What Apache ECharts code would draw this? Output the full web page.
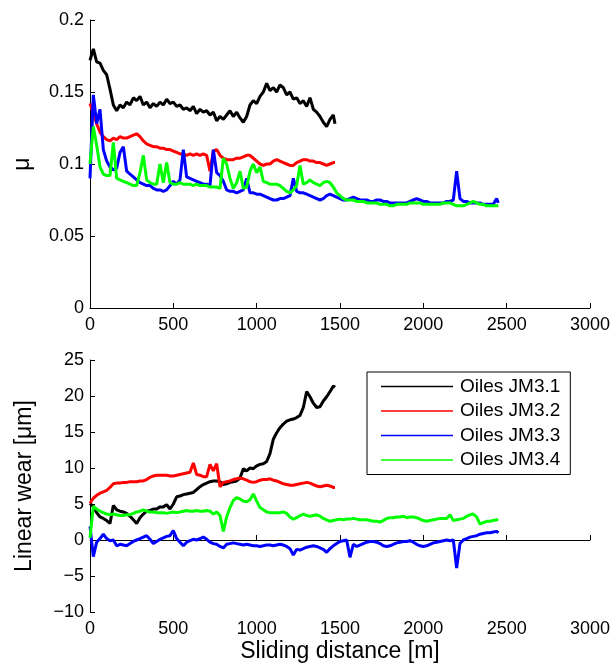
<!DOCTYPE html>
<html><head><meta charset="utf-8">
<script src="https://cdn.jsdelivr.net/npm/echarts@6/dist/echarts.min.js"></script>
<style>html,body{margin:0;padding:0;background:#fff}#c{width:613px;height:671px}</style>
</head><body><div id="c"></div>
<script>
// ---- data ----
const seriesNames = ['Oiles JM3.1', 'Oiles JM3.2', 'Oiles JM3.3', 'Oiles JM3.4'];
const seriesColors = ['#000000', '#ff0000', '#0000ff', '#00ff00'];
const xTicks = [0, 500, 1000, 1500, 2000, 2500, 3000];
const muTicks = [0, 0.05, 0.1, 0.15, 0.2];
const wearTicks = [-10, -5, 0, 5, 10, 15, 20, 25];

// sliding distance samples [m]
const distA = [0,20,40,60,80,100,120,140,160,180,200,220,240,260,280,300,320,340,360,380,
  400,420,440,460,480,500,520,540,560,580,600,620,640,660,680,700,720,740,760,780,
  800,820,840,860,880,900,920,940,960,980,1000,1020,1040,1060,1080,1100,1120,1140,1160,1180,
  1200,1220,1240,1260,1280,1300,1320,1340,1360,1380,1400,1420,1440,1460,1470];
const distB = [0,20,40,60,80,100,120,140,160,180,200,220,240,260,280,300,320,340,360,380,
  400,420,440,460,480,500,520,540,560,580,600,620,640,660,680,700,720,740,760,780,
  800,820,840,860,880,900,920,940,960,980,1000,1020,1040,1060,1080,1100,1120,1140,1160,1180,
  1200,1220,1240,1260,1280,1300,1320,1340,1360,1380,1400,1420,1440,1460,1480,1500,1520,1540,1560,1580,
  1600,1620,1640,1660,1680,1700,1720,1740,1760,1780,1800,1820,1840,1860,1880,1900,1920,1940,1960,1980,
  2000,2020,2040,2060,2080,2100,2120,2140,2160,2180,2200,2220,2240,2260,2280,2300,2320,2340,2360,2380,
  2400,2420,2440,2450];

// friction coefficient mu
const muJM31 = [0.172,0.180,0.171,0.170,0.165,0.162,0.152,0.141,0.137,0.141,
  0.139,0.143,0.141,0.146,0.144,0.147,0.141,0.143,0.139,0.142,
  0.140,0.143,0.141,0.145,0.142,0.143,0.140,0.141,0.138,0.139,
  0.137,0.140,0.135,0.138,0.136,0.137,0.134,0.136,0.130,0.133,
  0.131,0.134,0.137,0.133,0.136,0.132,0.129,0.133,0.141,0.144,
  0.142,0.147,0.150,0.156,0.151,0.153,0.150,0.155,0.153,0.148,
  0.150,0.145,0.146,0.142,0.144,0.140,0.146,0.138,0.136,0.133,
  0.129,0.126,0.131,0.134,0.128];
const muJM32 = [0.142,0.135,0.128,0.122,0.119,0.117,0.116,0.118,0.117,0.119,
  0.118,0.118,0.119,0.120,0.121,0.119,0.116,0.114,0.113,0.112,
  0.112,0.111,0.111,0.110,0.110,0.109,0.108,0.107,0.107,0.106,
  0.107,0.106,0.107,0.106,0.107,0.106,0.095,0.109,0.110,0.106,
  0.104,0.103,0.103,0.103,0.104,0.104,0.105,0.106,0.106,0.104,
  0.102,0.100,0.099,0.100,0.100,0.102,0.103,0.102,0.101,0.100,
  0.099,0.099,0.101,0.102,0.103,0.103,0.102,0.102,0.101,0.101,
  0.100,0.099,0.100,0.101,0.101];
const muJM33 = [0.090,0.148,0.128,0.138,0.110,0.102,0.098,0.096,0.097,0.108,
  0.112,0.095,0.093,0.091,0.089,0.087,0.086,0.085,0.085,0.083,
  0.082,0.082,0.081,0.082,0.085,0.088,0.086,0.089,0.110,0.091,
  0.090,0.089,0.088,0.087,0.086,0.086,0.085,0.110,0.094,0.092,
  0.088,0.082,0.081,0.081,0.080,0.081,0.082,0.090,0.080,0.080,
  0.079,0.079,0.078,0.077,0.076,0.075,0.075,0.076,0.076,0.077,
  0.078,0.090,0.081,0.080,0.080,0.079,0.078,0.077,0.076,0.075,
  0.076,0.078,0.079,0.078,0.077,0.076,0.075,0.075,0.076,0.077,
  0.076,0.075,0.075,0.075,0.074,0.074,0.075,0.075,0.074,0.074,
  0.073,0.073,0.073,0.073,0.073,0.073,0.074,0.075,0.076,0.075,
  0.074,0.074,0.073,0.073,0.073,0.073,0.073,0.074,0.074,0.075,
  0.095,0.076,0.074,0.074,0.073,0.073,0.073,0.073,0.072,0.072,
  0.072,0.072,0.076,0.073];
const muJM34 = [0.100,0.126,0.113,0.098,0.093,0.092,0.092,0.115,0.090,0.089,
  0.088,0.087,0.086,0.085,0.085,0.094,0.106,0.089,0.087,0.086,
  0.086,0.100,0.087,0.101,0.087,0.086,0.086,0.087,0.086,0.086,
  0.086,0.085,0.086,0.085,0.085,0.085,0.084,0.084,0.084,0.083,
  0.104,0.100,0.090,0.083,0.087,0.095,0.083,0.084,0.095,0.100,
  0.094,0.098,0.088,0.087,0.086,0.086,0.086,0.085,0.083,0.081,
  0.080,0.082,0.085,0.099,0.086,0.087,0.089,0.087,0.086,0.085,
  0.087,0.088,0.087,0.084,0.080,0.078,0.076,0.075,0.075,0.075,
  0.074,0.074,0.074,0.073,0.073,0.073,0.073,0.072,0.072,0.072,
  0.071,0.071,0.072,0.072,0.072,0.072,0.073,0.073,0.073,0.073,
  0.072,0.072,0.072,0.072,0.072,0.072,0.073,0.073,0.073,0.072,
  0.071,0.071,0.071,0.072,0.073,0.074,0.073,0.072,0.072,0.071,
  0.071,0.071,0.071,0.071];

// linear wear [um]
const wearJM31 = [5.1,4.6,3.8,3.2,3.0,2.7,2.3,4.8,4.2,4.0,
  3.9,3.7,3.3,2.8,2.3,3.1,3.6,4.0,4.1,4.3,
  4.3,4.6,4.6,4.9,4.3,5.0,6.0,6.1,6.3,6.4,
  6.5,6.6,7.0,7.4,7.7,7.9,8.1,8.2,8.2,8.1,
  7.7,7.8,8.0,8.1,8.2,8.6,9.9,9.6,10.0,9.9,
  10.3,10.5,10.6,10.9,12.0,14.0,14.9,15.6,16.1,16.5,
  16.7,16.8,17.0,17.3,18.4,20.6,19.9,19.0,18.4,18.5,
  19.3,19.9,20.6,21.4,21.2];
const wearJM32 = [5.1,5.8,6.2,6.5,6.7,6.9,7.3,7.8,7.9,7.9,
  8.0,8.0,8.1,8.1,8.1,8.2,8.2,8.4,8.7,8.9,
  9.0,9.0,9.0,9.0,8.9,8.9,9.0,9.1,9.2,9.3,
  9.4,10.7,9.1,9.0,8.8,8.8,10.5,9.6,10.6,7.4,
  8.0,8.1,8.2,8.4,8.5,8.6,8.5,8.3,8.1,8.0,
  8.1,8.3,8.4,8.4,8.5,8.3,8.2,8.0,7.8,7.7,
  7.6,7.6,7.7,7.8,7.9,8.0,7.9,7.7,7.5,7.4,
  7.5,7.6,7.5,7.3,7.3];
const wearJM33 = [1.9,-2.3,-0.3,0.2,0.8,0.2,-0.1,0.0,-0.8,-0.6,
  -0.7,-0.8,-0.5,-0.2,0.0,0.2,0.4,0.6,0.1,-0.5,
  -0.2,0.1,0.3,0.5,0.6,1.3,0.2,-0.3,-0.8,-0.3,
  -0.1,0.1,0.0,0.2,0.4,0.1,-0.3,-0.5,-0.6,-0.9,
  -1.1,-0.6,-0.5,-0.4,-0.5,-0.6,-0.7,-0.6,-0.7,-0.8,
  -0.8,-0.9,-0.8,-0.7,-0.7,-0.8,-0.7,-0.6,-0.7,-0.9,
  -1.2,-2.1,-1.3,-1.4,-1.2,-1.0,-0.9,-0.8,-0.9,-1.1,
  -1.3,-1.7,-1.2,-0.8,-0.5,-0.2,-0.1,0.0,-2.4,-0.6,
  -0.9,-0.7,-0.5,-0.3,-0.2,-0.2,-0.3,-0.5,-0.8,-0.9,
  -0.8,-0.6,-0.4,-0.3,-0.2,-0.2,-0.1,-0.3,-0.6,-0.8,
  -0.9,-0.8,-0.6,-0.4,-0.3,-0.2,-0.1,0.0,-0.1,0.0,
  -3.9,-0.5,0.0,0.2,0.4,0.5,0.6,0.8,0.9,1.0,
  1.0,1.1,1.2,1.0];
const wearJM34 = [0.3,4.7,4.3,4.0,3.8,3.6,3.5,3.6,3.5,3.4,
  3.4,3.5,3.5,3.7,3.9,4.0,4.2,4.0,3.9,3.9,
  3.8,3.8,3.8,3.7,3.8,3.9,3.8,3.9,4.0,4.1,
  4.0,4.0,4.1,4.0,4.0,4.1,4.0,3.6,3.9,3.4,
  1.2,3.2,4.5,5.5,5.9,5.7,5.4,5.3,5.6,6.4,
  5.4,4.5,4.2,3.9,3.8,3.8,3.8,3.8,3.9,3.7,
  3.2,2.9,3.1,3.4,3.6,3.4,3.3,3.4,3.5,3.3,
  3.0,2.8,2.6,2.7,2.8,2.9,2.8,2.9,2.9,3.0,
  2.9,2.8,2.8,2.8,2.7,2.6,2.6,2.5,2.7,3.0,
  3.1,3.1,3.2,3.2,3.3,3.1,3.2,3.2,3.1,2.9,
  2.7,2.6,2.7,2.8,2.9,3.0,3.0,3.0,3.5,2.7,
  2.8,2.9,3.0,3.3,3.5,3.6,3.2,2.2,2.4,2.6,
  2.6,2.7,2.8,2.8];

// ---- chart ----
const FONT = '"Liberation Sans", Arial, Helvetica, sans-serif';
const zip = (xs, ys) => xs.map((x, i) => [x, ys[i]]);
const muData = [zip(distA, muJM31), zip(distA, muJM32), zip(distB, muJM33), zip(distB, muJM34)];
const wearData = [zip(distA, wearJM31), zip(distA, wearJM32), zip(distB, wearJM33), zip(distB, wearJM34)];

function xAxisCfg(gridIndex, withName) {
  return {
    type: 'value', gridIndex,
    min: xTicks[0], max: xTicks[xTicks.length - 1], interval: xTicks[1] - xTicks[0],
    axisLine: { show: true, lineStyle: { color: '#000', width: 1 } },
    axisTick: { show: true, inside: true, length: 5, lineStyle: { color: '#000', width: 1 } },
    axisLabel: { color: '#000', fontSize: 18, fontFamily: FONT, margin: 8,
      formatter: v => String(Math.round(v)) },
    splitLine: { show: false },
    name: withName ? 'Sliding distance [m]' : '',
    nameLocation: 'middle', nameGap: 28,
    nameTextStyle: { color: '#000', fontSize: 23, fontFamily: FONT }
  };
}
function yAxisCfg(gridIndex, ticks, name, nameGap) {
  return {
    type: 'value', gridIndex,
    min: ticks[0], max: ticks[ticks.length - 1], interval: ticks[1] - ticks[0],
    axisLine: { show: true, lineStyle: { color: '#000', width: 1 } },
    axisTick: { show: true, inside: true, length: 5, lineStyle: { color: '#000', width: 1 } },
    axisLabel: { color: '#000', fontSize: 18, fontFamily: FONT, margin: 6,
      formatter: v => String(+v.toFixed(4)).replace('-', '\u2212') },
    splitLine: { show: false },
    name, nameLocation: 'middle', nameGap, nameRotate: 90,
    nameTextStyle: { color: '#000', fontSize: 23, fontFamily: FONT }
  };
}

const series = [];
for (let i = 0; i < 4; i++) {
  series.push({
    type: 'line', name: seriesNames[i], xAxisIndex: 0, yAxisIndex: 0,
    data: muData[i], showSymbol: false, symbol: 'none', animation: false,
    lineStyle: { color: seriesColors[i], width: 3 }, itemStyle: { color: seriesColors[i] }
  });
}
for (let i = 0; i < 4; i++) {
  series.push({
    type: 'line', name: seriesNames[i], xAxisIndex: 1, yAxisIndex: 1,
    data: wearData[i], showSymbol: false, symbol: 'none', animation: false,
    lineStyle: { color: seriesColors[i], width: 3 }, itemStyle: { color: seriesColors[i] }
  });
}

const chart = echarts.init(document.getElementById('c'), null, { renderer: 'canvas' });
chart.setOption({
  animation: false,
  backgroundColor: '#fff',
  grid: [
    { left: 90, right: 23, top: 20, height: 288 },
    { left: 90, right: 23, top: 360, height: 252 }
  ],
  xAxis: [xAxisCfg(0, false), xAxisCfg(1, true)],
  yAxis: [yAxisCfg(0, muTicks, 'μ', 56), yAxisCfg(1, wearTicks, 'Linear wear [μm]', 54)],
  legend: {
    data: seriesNames, orient: 'vertical', left: 367, top: 372,
    icon: 'rect', itemWidth: 72, itemHeight: 1.5, itemGap: 5.5,
    selectedMode: false,
    textStyle: { color: '#000', fontSize: 19, lineHeight: 19, fontFamily: FONT, padding: [0, 0, 0, 2] },
    backgroundColor: '#fff', borderColor: '#000', borderWidth: 1,
    padding: [5, 10, 5, 14]
  },
  series
});
</script>
</body></html>
